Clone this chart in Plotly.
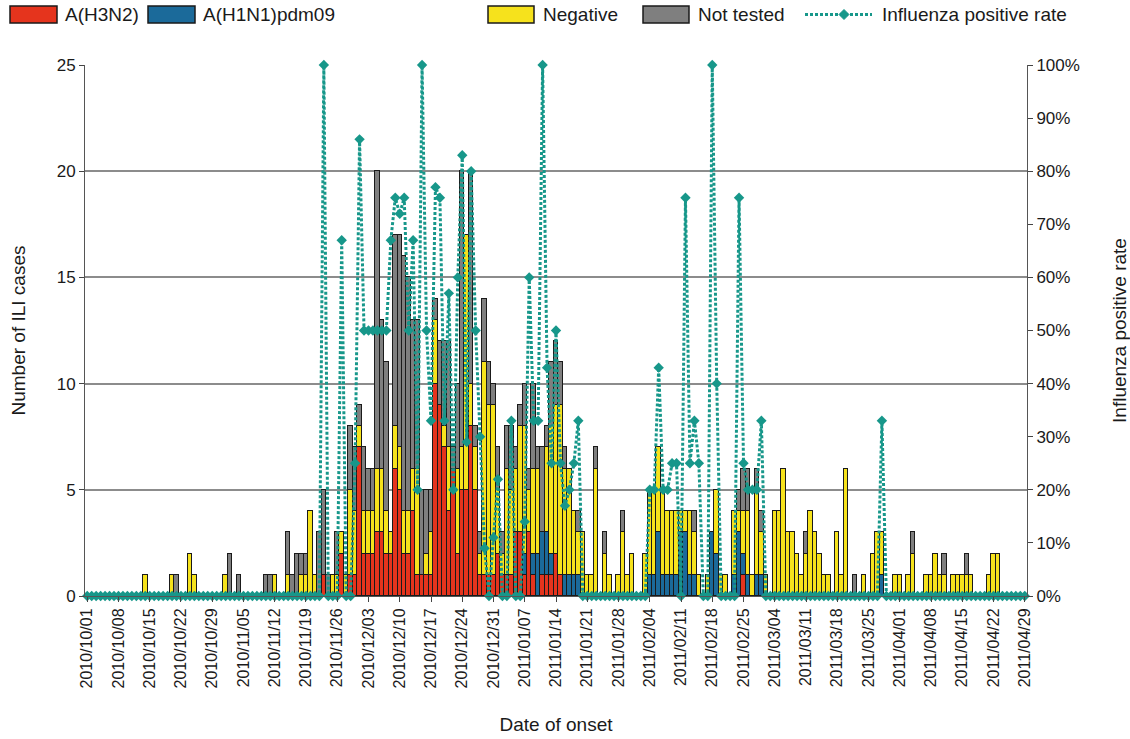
import pandas as pd
import plotly.graph_objects as go

# ---- data (one value per day, 2010/10/01 .. 2011/04/29), one row per week ----
dates = [d.strftime("%Y/%m/%d") for d in pd.date_range("2010-10-01", "2011-04-29", freq="D")]

h3n2 = [
    0, 0, 0, 0, 0, 0, 0,
    0, 0, 0, 0, 0, 0, 0,
    0, 0, 0, 0, 0, 0, 0,
    0, 0, 0, 0, 0, 0, 0,
    0, 0, 0, 0, 0, 0, 0,
    0, 0, 0, 0, 0, 0, 0,
    0, 0, 0, 0, 0, 0, 0,
    0, 0, 0, 0, 1, 0, 0,
    0, 2, 0, 1, 1, 7, 2,
    2, 2, 3, 3, 2, 2, 6,
    5, 2, 2, 4, 1, 1, 1,
    1, 10, 9, 7, 4, 6, 2,
    5, 5, 8, 5, 1, 1, 1,
    1, 2, 1, 1, 1, 3, 3,
    1, 3, 1, 0, 1, 1, 1,
    2, 1, 0, 0, 0, 0, 0,
    0, 0, 0, 0, 0, 0, 0,
    0, 0, 0, 0, 0, 0, 0,
    0, 0, 0, 0, 0, 0, 0,
    0, 0, 0, 0, 0, 0, 0,
    0, 0, 0, 0, 0, 0, 0,
    1, 0, 0, 0, 0, 0, 0,
    0, 0, 0, 0, 0, 0, 0,
    0, 0, 0, 0, 0, 0, 0,
    0, 0, 0, 0, 0, 0, 0,
    0, 0, 0, 0, 0, 0, 0,
    0, 0, 0, 0, 0, 0, 0,
    0, 0, 0, 0, 0, 0, 0,
    0, 0, 0, 0, 0, 0, 0,
    0, 0, 0, 0, 0, 0, 0,
    0,
]

h1n1 = [
    0, 0, 0, 0, 0, 0, 0,
    0, 0, 0, 0, 0, 0, 0,
    0, 0, 0, 0, 0, 0, 0,
    0, 0, 0, 0, 0, 0, 0,
    0, 0, 0, 0, 0, 0, 0,
    0, 0, 0, 0, 0, 0, 0,
    0, 0, 0, 0, 0, 0, 0,
    0, 0, 0, 0, 0, 0, 0,
    0, 0, 0, 0, 0, 0, 0,
    0, 0, 0, 0, 0, 0, 0,
    0, 0, 0, 0, 0, 0, 0,
    0, 0, 0, 0, 0, 0, 0,
    0, 0, 0, 0, 0, 0, 0,
    0, 0, 0, 0, 0, 0, 0,
    1, 0, 1, 2, 2, 2, 1,
    0, 0, 1, 1, 1, 1, 0,
    0, 0, 0, 0, 0, 0, 0,
    0, 0, 0, 0, 0, 0, 0,
    1, 1, 3, 1, 1, 1, 1,
    3, 3, 1, 1, 0, 0, 0,
    3, 2, 0, 0, 0, 1, 3,
    1, 1, 0, 1, 1, 0, 0,
    0, 0, 0, 0, 0, 0, 0,
    0, 0, 0, 0, 0, 0, 0,
    0, 0, 0, 0, 0, 0, 0,
    0, 0, 0, 1, 0, 0, 0,
    0, 0, 0, 0, 0, 0, 0,
    0, 0, 0, 0, 0, 0, 0,
    0, 0, 0, 0, 0, 0, 0,
    0, 0, 0, 0, 0, 0, 0,
    0,
]

negative = [
    0, 0, 0, 0, 0, 0, 0,
    0, 0, 0, 0, 0, 0, 1,
    0, 0, 0, 0, 0, 1, 0,
    0, 0, 2, 1, 0, 0, 0,
    0, 0, 0, 1, 0, 0, 0,
    0, 0, 0, 0, 0, 0, 0,
    1, 0, 0, 1, 0, 0, 1,
    1, 4, 1, 0, 0, 0, 1,
    1, 1, 1, 4, 3, 1, 2,
    2, 2, 3, 3, 2, 1, 2,
    2, 2, 2, 2, 5, 0, 1,
    2, 3, 0, 1, 3, 0, 4,
    2, 12, 2, 2, 1, 10, 8,
    8, 3, 1, 5, 4, 3, 5,
    6, 2, 4, 4, 0, 4, 6,
    7, 8, 5, 5, 3, 2, 3,
    1, 1, 6, 0, 2, 1, 0,
    1, 3, 1, 2, 0, 0, 2,
    4, 4, 4, 4, 3, 3, 3,
    1, 1, 3, 2, 1, 0, 1,
    0, 3, 1, 1, 0, 3, 1,
    2, 3, 1, 4, 2, 1, 0,
    4, 4, 6, 3, 3, 2, 1,
    2, 4, 3, 2, 1, 1, 0,
    3, 1, 6, 0, 0, 0, 1,
    0, 2, 3, 2, 0, 0, 1,
    1, 0, 1, 2, 0, 0, 1,
    1, 2, 1, 1, 0, 1, 1,
    1, 1, 1, 0, 0, 0, 1,
    2, 2, 0, 0, 0, 0, 0,
    0,
]

not_tested = [
    0, 0, 0, 0, 0, 0, 0,
    0, 0, 0, 0, 0, 0, 0,
    0, 0, 0, 0, 0, 0, 1,
    0, 0, 0, 0, 0, 0, 0,
    0, 0, 0, 0, 2, 0, 1,
    0, 0, 0, 0, 0, 1, 1,
    0, 0, 0, 2, 1, 2, 1,
    1, 0, 0, 3, 4, 1, 0,
    2, 0, 0, 3, 3, 1, 3,
    2, 2, 14, 7, 7, 0, 9,
    10, 12, 11, 7, 7, 4, 3,
    2, 1, 3, 4, 5, 1, 4,
    13, 0, 10, 1, 1, 3, 2,
    1, 2, 1, 2, 3, 1, 1,
    2, 1, 4, 1, 4, 1, 3,
    3, 2, 1, 0, 0, 1, 0,
    0, 0, 1, 0, 1, 0, 0,
    0, 1, 0, 0, 0, 0, 0,
    0, 0, 0, 0, 0, 0, 0,
    0, 0, 0, 1, 0, 0, 0,
    0, 0, 0, 0, 0, 0, 1,
    2, 2, 0, 1, 1, 0, 0,
    0, 0, 0, 0, 0, 0, 0,
    1, 0, 0, 0, 0, 0, 0,
    0, 0, 0, 0, 1, 0, 0,
    0, 0, 0, 0, 0, 0, 0,
    0, 0, 0, 1, 0, 0, 0,
    0, 0, 0, 1, 0, 0, 0,
    0, 1, 0, 0, 0, 0, 0,
    0, 0, 0, 0, 0, 0, 0,
    0,
]

positive_rate = [  # percent
    0, 0, 0, 0, 0, 0, 0,
    0, 0, 0, 0, 0, 0, 0,
    0, 0, 0, 0, 0, 0, 0,
    0, 0, 0, 0, 0, 0, 0,
    0, 0, 0, 0, 0, 0, 0,
    0, 0, 0, 0, 0, 0, 0,
    0, 0, 0, 0, 0, 0, 0,
    0, 0, 0, 0, 100, 0, 0,
    0, 67, 0, 0, 25, 86, 50,
    50, 50, 50, 50, 50, 67, 75,
    72, 75, 50, 67, 20, 100, 50,
    33, 77, 75, 33, 57, 20, 60,
    83, 29, 80, 50, 30, 9, 0,
    11, 22, 0, 0, 33, 0, 0,
    14, 60, 33, 33, 100, 43, 25,
    50, 25, 17, 20, 25, 33, 0,
    0, 0, 0, 0, 0, 0, 0,
    0, 0, 0, 0, 0, 0, 0,
    20, 20, 43, 20, 20, 25, 25,
    0, 75, 25, 33, 25, 0, 0,
    100, 40, 0, 0, 0, 0, 75,
    25, 20, 20, 20, 33, 0, 0,
    0, 0, 0, 0, 0, 0, 0,
    0, 0, 0, 0, 0, 0, 0,
    0, 0, 0, 0, 0, 0, 0,
    0, 0, 0, 33, 0, 0, 0,
    0, 0, 0, 0, 0, 0, 0,
    0, 0, 0, 0, 0, 0, 0,
    0, 0, 0, 0, 0, 0, 0,
    0, 0, 0, 0, 0, 0, 0,
    0,
]

tick_labels = dates[::7]

series = [
    ("A(H3N2)", h3n2, "#e5341d"),
    ("A(H1N1)pdm09", h1n1, "#1b6a9a"),
    ("Negative", negative, "#f6e21c"),
    ("Not tested", not_tested, "#7f7f7f"),
]
TEAL = "#17978a"
FONT = "Liberation Sans, Arial, sans-serif"

W, H = 1130, 739
ML, MR, MT, MB = 85, 103, 65, 143
PW, PH = W - ML - MR, H - MT - MB


def px(xp):
    return (xp - ML) / PW


def py(yp):
    return (H - MB - yp) / PH


fig = go.Figure()
for name, vals, col in series:
    fig.add_trace(go.Bar(
        x=dates, y=vals, name=name,
        marker=dict(color=col, line=dict(color="#1a1a1a", width=1)),
        showlegend=False,
    ))

fig.add_trace(go.Scatter(
    x=dates, y=positive_rate, yaxis="y2", mode="lines+markers",
    name="Influenza positive rate",
    line=dict(color=TEAL, width=3, dash="3px,2px"),
    marker=dict(symbol="diamond", size=8, color=TEAL),
    cliponaxis=False, showlegend=False,
))

fig.update_layout(
    width=W, height=H,
    margin=dict(l=ML, r=MR, t=MT, b=MB, autoexpand=False),
    paper_bgcolor="white", plot_bgcolor="white",
    barmode="stack", bargap=0,
    font=dict(family=FONT, size=17, color="#1a1a1a"),
    xaxis=dict(
        type="category", tickmode="array", tickvals=tick_labels, ticktext=tick_labels,
        tickangle=-90, tickfont=dict(size=16), ticks="outside", ticklen=5,
        showline=True, linecolor="#555555", linewidth=1, automargin=False,
        title=dict(text="Date of onset", font=dict(size=19), standoff=30),
        range=[-0.5, len(dates) - 0.5],
    ),
    yaxis=dict(
        range=[0, 25], dtick=5, showgrid=True, gridcolor="#8c8c8c", gridwidth=2,
        ticks="outside", ticklen=5, showline=True, linecolor="#555555", linewidth=1,
        zeroline=False, tickfont=dict(size=17), automargin=False,
        title=dict(text="Number of ILI cases", font=dict(size=19), standoff=26),
    ),
    yaxis2=dict(
        overlaying="y", side="right", range=[0, 100], dtick=10, ticksuffix="%",
        showgrid=False, ticks="outside", ticklen=5, showline=True, automargin=False,
        linecolor="#555555", linewidth=1, zeroline=False, tickfont=dict(size=17),
        title=dict(text="Influenza positive rate", font=dict(size=19), standoff=34),
    ),
)

# ---- custom legend across the top ----
shapes = []
annots = []
box_top, box_bot = 6, 23
legend_items = [
    (10, 57, 63, series[0]),
    (148, 195, 201, series[1]),
    (488, 534, 541, series[2]),
    (643, 689, 696, series[3]),
]
for x0, x1, xt, (name, _, col) in legend_items:
    shapes.append(dict(type="rect", xref="paper", yref="paper",
                       x0=px(x0), x1=px(x1), y0=py(box_bot), y1=py(box_top),
                       fillcolor=col, line=dict(color="#1a1a1a", width=1.5)))
    annots.append(dict(xref="paper", yref="paper", x=px(xt), y=py(14.5), text=name,
                       showarrow=False, xanchor="left", yanchor="middle",
                       font=dict(size=19, family=FONT, color="#1a1a1a")))
shapes.append(dict(type="line", xref="paper", yref="paper",
                   x0=px(805), x1=px(872), y0=py(14.5), y1=py(14.5),
                   line=dict(color=TEAL, width=3, dash="3px,2px")))
shapes.append(dict(type="path", xref="paper", yref="paper",
                   path="M {a},{m} L {b},{t} L {c},{m} L {b},{u} Z".format(
                       a=px(839), b=px(844), c=px(849), m=py(14.5), t=py(9.5), u=py(19.5)),
                   fillcolor=TEAL, line=dict(color=TEAL, width=1)))
annots.append(dict(xref="paper", yref="paper", x=px(880), y=py(14.5),
                   text="Influenza positive rate", showarrow=False, xanchor="left",
                   yanchor="middle", font=dict(size=19, family=FONT, color="#1a1a1a")))
fig.update_layout(shapes=shapes, annotations=annots)

fig.write_html("out.html")
